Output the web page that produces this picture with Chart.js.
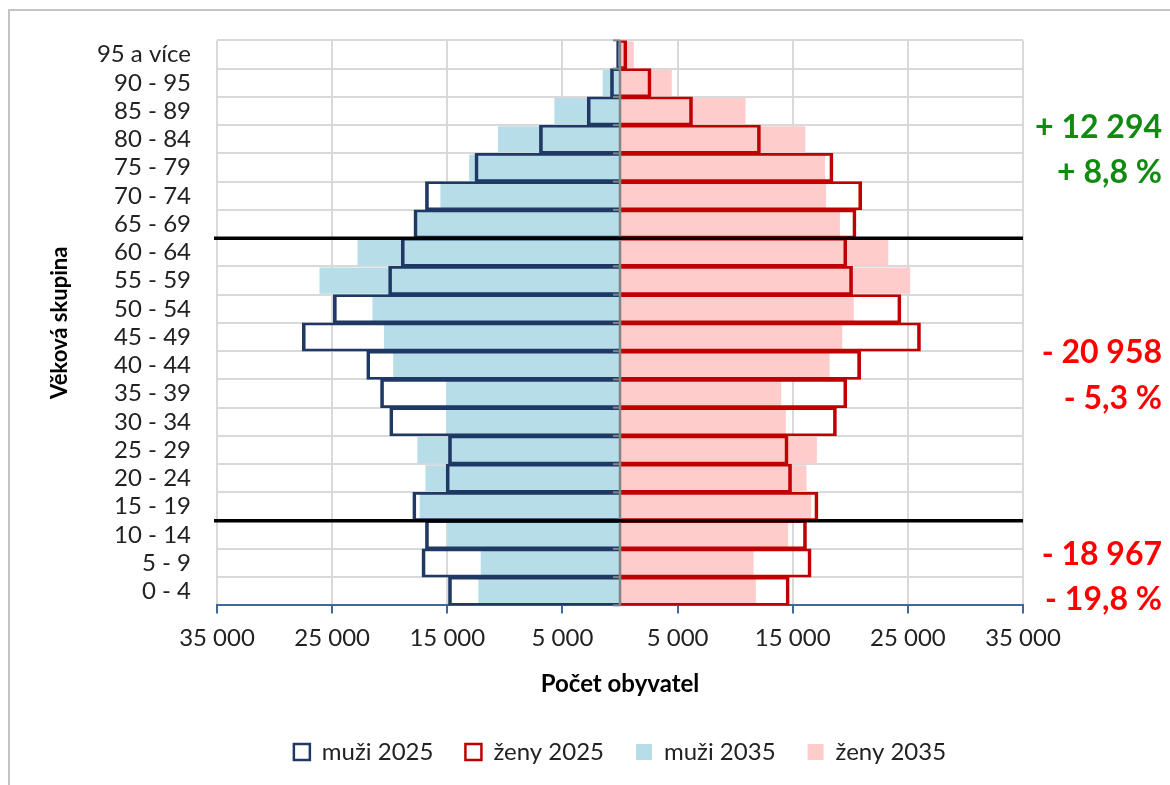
<!DOCTYPE html>
<html lang="cs">
<head>
<meta charset="utf-8">
<title>Věková pyramida 2025 a 2035</title>
<script src="https://cdn.jsdelivr.net/npm/chart.js@4.4.1/dist/chart.umd.min.js"></script>
<style>
  html, body { margin: 0; padding: 0; background: #fff; }
  #wrap { position: relative; width: 1170px; height: 785px; }
</style>
</head>
<body>
<div id="wrap"><canvas id="pyramid"></canvas></div>
<script>
// age groups from youngest (bottom) to oldest (top)
const ageGroups = ['0 - 4', '5 - 9', '10 - 14', '15 - 19', '20 - 24', '25 - 29', '30 - 34',
  '35 - 39', '40 - 44', '45 - 49', '50 - 54', '55 - 59', '60 - 64', '65 - 69', '70 - 74',
  '75 - 79', '80 - 84', '85 - 89', '90 - 95', '95 a více'];

const men2025 = [14900, 17200, 16900, 18000, 15100, 14900, 20000, 20800, 22000, 27600,
  24900, 20100, 19000, 17900, 16900, 12600, 7000, 2850, 830, 300];
const women2025 = [14700, 16600, 16200, 17200, 14900, 14600, 18800, 19700, 20900, 26100,
  24400, 20200, 19700, 20500, 21000, 18500, 12200, 6300, 2700, 600];
const men2035 = [12300, 12100, 15000, 17400, 16900, 17600, 15100, 15100, 19700, 20500,
  21500, 26100, 22800, 17800, 15600, 13100, 10600, 5700, 1500, 200];
const women2035 = [11800, 11600, 14600, 16600, 16200, 17100, 14400, 14000, 18200, 19300,
  20300, 25200, 23300, 19100, 17900, 17800, 16100, 10900, 4500, 1200];

const xTicks = [-35000, -25000, -15000, -5000, 5000, 15000, 25000, 35000];

// black separators drawn just below these groups
const groupBreaks = ['65 - 69', '15 - 19'];

// change 2025 -> 2035 for the three broad groups
const changeTexts = ['+ 12 294', '+ 8,8 %', '- 20 958', '- 5,3 %', '- 18 967', '- 19,8 %'];
const changeColors = ['#108a10', '#108a10', '#ff0000', '#ff0000', '#ff0000', '#ff0000'];
const changeAnchors = [16.4, 14.8, 8.45, 6.8, 1.3, -0.3]; // position on the age axis

const FONT = 'Lato, "Open Sans", sans-serif';
Chart.defaults.font.family = FONT;
Chart.defaults.color = '#222';

function fmt(v) {
  return String(Math.abs(v)).replace(/\B(?=(\d{3})+(?!\d))/g, ' ');
}

const extras = {
  id: 'extras',
  beforeDraw(chart) {
    const ctx = chart.ctx;
    ctx.save();
    ctx.strokeStyle = '#c4c4c4';
    ctx.lineWidth = 2;
    ctx.strokeRect(9, 10, 1400, 1000);
    ctx.restore();
  },
  afterDatasetsDraw(chart) {
    const { ctx, chartArea, scales: { x, y } } = chart;
    const x0 = x.getPixelForValue(0);
    ctx.save();

    // vertical axis at zero with small ticks at group boundaries
    ctx.strokeStyle = '#848484';
    ctx.lineWidth = 2.5;
    ctx.beginPath();
    ctx.moveTo(x0, chartArea.top);
    ctx.lineTo(x0, chartArea.bottom);
    ctx.stroke();
    ctx.lineWidth = 2;
    for (let i = 0; i <= ageGroups.length; i++) {
      const py = y.getPixelForValue(i - 0.5);
      ctx.beginPath();
      ctx.moveTo(x0 - 7, py);
      ctx.lineTo(x0, py);
      ctx.stroke();
    }

    // separators between children / working age / seniors
    ctx.strokeStyle = '#000';
    ctx.lineWidth = 3.5;
    groupBreaks.forEach(g => {
      const py = y.getPixelForValue(ageGroups.indexOf(g) - 0.5);
      ctx.beginPath();
      ctx.moveTo(chartArea.left - 3, py);
      ctx.lineTo(chartArea.right, py);
      ctx.stroke();
    });

    // change labels on the right
    ctx.font = 'bold 32px ' + FONT;
    ctx.textAlign = 'right';
    ctx.textBaseline = 'middle';
    changeTexts.forEach((t, i) => {
      ctx.fillStyle = changeColors[i];
      ctx.fillText(t, chartArea.right + 139, y.getPixelForValue(changeAnchors[i]));
    });
    ctx.restore();
  }
};

const outline = { top: 2, bottom: 2, left: 3, right: 3 };

new Chart(document.getElementById('pyramid'), {
  type: 'bar',
  data: {
    labels: ageGroups,
    datasets: [
      {
        label: 'muži 2025',
        data: men2025.map(v => -v),
        backgroundColor: 'rgba(0,0,0,0)',
        borderColor: '#1f3864',
        borderWidth: outline,
        barPercentage: 1,
        categoryPercentage: 1,
        grouped: false
      },
      {
        label: 'ženy 2025',
        data: women2025,
        backgroundColor: 'rgba(0,0,0,0)',
        borderColor: '#c00000',
        borderWidth: outline,
        barPercentage: 1,
        categoryPercentage: 1,
        grouped: false
      },
      {
        label: 'muži 2035',
        data: men2035.map(v => -v),
        backgroundColor: '#b7dde8',
        borderWidth: 0,
        barPercentage: 0.93,
        categoryPercentage: 1,
        grouped: false
      },
      {
        label: 'ženy 2035',
        data: women2035,
        backgroundColor: '#ffcccc',
        borderWidth: 0,
        barPercentage: 0.93,
        categoryPercentage: 1,
        grouped: false
      }
    ]
  },
  options: {
    indexAxis: 'y',
    responsive: true,
    maintainAspectRatio: false,
    animation: false,
    layout: { padding: { top: 40, right: 147, bottom: 11, left: 0 } },
    scales: {
      x: {
        type: 'linear',
        min: -35000,
        max: 35000,
        afterBuildTicks: s => { s.ticks = xTicks.map(v => ({ value: v })); },
        ticks: {
          callback: v => fmt(v),
          font: { size: 24 },
          color: '#222',
          padding: 10,
          maxRotation: 0
        },
        grid: { color: '#d9d9d9', lineWidth: 2, tickColor: '#41689c', tickLength: 8 },
        border: { color: '#41689c', width: 2 },
        title: {
          display: true,
          text: 'Počet obyvatel',
          font: { size: 24, weight: 'bold' },
          color: '#000',
          padding: { top: 8, bottom: 9 }
        }
      },
      y: {
        type: 'category',
        reverse: true,
        afterFit: s => { s.width = 217; },
        ticks: { font: { size: 24 }, color: '#222', padding: 26, autoSkip: false },
        grid: { color: '#d9d9d9', lineWidth: 2, drawTicks: false, offset: true },
        border: { display: false },
        title: {
          display: true,
          text: 'Věková skupina',
          font: { size: 22, weight: 'bold' },
          color: '#000',
          padding: { top: 47, bottom: 0 }
        }
      }
    },
    plugins: {
      legend: {
        position: 'bottom',
        fullSize: false,
        labels: {
          boxWidth: 16,
          boxHeight: 16,
          padding: 32,
          font: { size: 24 },
          color: '#222'
        }
      },
      tooltip: { enabled: false }
    }
  },
  plugins: [extras]
});
</script>
</body>
</html>
